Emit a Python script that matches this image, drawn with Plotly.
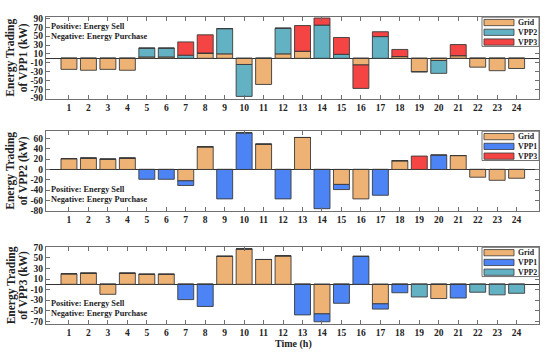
import plotly.graph_objects as go

hours = list(range(1, 25))

# Panel 1: Energy trading of VPP1
vpp1_grid = [-25, -27, -25, -27, 3, 3, 0, 11, 10, -14, -59, 10, 16, 0, 0, -15, 0, 4, -30, -5, 6, -20, -28, -23]
vpp1_vpp2 = [0, 0, 0, 0, 20, 20, 7, 1, 57, -72, 0, 58, 0, 75, 9, 0, 49, 0, -1, -29, 0, 0, 0, 0]
vpp1_vpp3 = [0, 0, 0, 0, 0, 0, 30, 41, 0, 0, 0, 0, 58, 16, 38, -53, 11, 16, 0, 0, 25, 0, 0, 0]

# Panel 2: Energy trading of VPP2
vpp2_grid = [21, 22, 20, 22, 0, 0, -22, 44, 0, 0, 49, 0, 62, 0, -29, -57, 0, 17, 0, 0, 27, -15, -21, -17]
vpp2_vpp1 = [0, 0, 0, 0, -19, -19, -9, 0, -57, 71, 0, -57, 0, -76, -10, 0, -50, 0, 0, 28, 0, 0, 0, 0]
vpp2_vpp3 = [0, 0, 0, 0, 0, 0, 0, 0, 0, 0, 0, 0, 0, 0, 0, 0, 0, 0, 26, 0, 0, 0, 0, 0]

# Panel 3: Energy trading of VPP3
vpp3_grid = [20, 21, -19, 21, 19, 19, 0, 0, 53, 67, 47, 54, 0, -56, 0, 0, -37, 0, 0, -27, 0, 0, 0, 0]
vpp3_vpp1 = [0, 0, 0, 0, 0, 0, -29, -42, 0, 0, 0, 0, -58, -15, -36, 53, -10, -16, 0, 0, -26, 0, 0, 0]
vpp3_vpp2 = [0, 0, 0, 0, 0, 0, 0, 0, 0, 0, 0, 0, 0, 0, 0, 0, 0, 0, -24, 0, 0, -15, -20, -17]

y_ticks1 = [90, 70, 50, 30, 10, -10, -30, -50, -70, -90]
y_ticks2 = [60, 40, 20, 0, -20, -40, -60, -80]
y_ticks3 = [70, 50, 30, 10, -10, -30, -50, -70]

C_GRID = "#EEB274"
C_VPP1 = "#4C84F5"
C_VPP2 = "#63B2C4"
C_VPP3 = "#F44444"

W, H = 550, 363
FONT = "Liberation Serif"


def px(x):
    return x / W


def py(y):
    return 1 - y / H


# pixel boxes of plot areas (top, bottom)
panels = [(13, 97), (130, 212), (249, 328)]
xl, xr = 46, 539

fig = go.Figure()

series = [
    [("Grid", vpp1_grid, C_GRID), ("VPP2", vpp1_vpp2, C_VPP2), ("VPP3", vpp1_vpp3, C_VPP3)],
    [("Grid", vpp2_grid, C_GRID), ("VPP1", vpp2_vpp1, C_VPP1), ("VPP3", vpp2_vpp3, C_VPP3)],
    [("Grid", vpp3_grid, C_GRID), ("VPP1", vpp3_vpp1, C_VPP1), ("VPP2", vpp3_vpp2, C_VPP2)],
]
ranges = [[-91, 94], [-80, 75], [-75, 71]]
ticks = [y_ticks1, y_ticks2, y_ticks3]
ytitles = ["of VPP1 (kW)", "of VPP2 (kW)", "of VPP3 (kW)"]

for i, group in enumerate(series):
    xa = "x" if i == 0 else f"x{i+1}"
    ya = "y" if i == 0 else f"y{i+1}"
    for name, vals, col in group:
        fig.add_trace(go.Bar(
            x=hours, y=vals, name=name, xaxis=xa, yaxis=ya, width=0.82,
            marker=dict(color=col, line=dict(color="#3a3a3a", width=0.9)),
            showlegend=False,
        ))
    top, bot = panels[i]
    axis_common = dict(showline=True, linecolor="#707070", linewidth=1, mirror="ticks",
                       ticks="inside", tickcolor="#707070", ticklen=4, showgrid=False)
    fig.layout[("xaxis" if i == 0 else f"xaxis{i+1}")] = dict(
        domain=[px(xl), px(xr)], anchor=ya, range=[-0.18, 25.15],
        tickvals=hours, ticktext=[str(h) for h in hours],
        tickfont=dict(family=FONT, size=9.5, color="#222", weight="bold"),
        zeroline=False, **axis_common)
    fig.layout[("yaxis" if i == 0 else f"yaxis{i+1}")] = dict(
        domain=[py(bot), py(top)], anchor=xa, range=ranges[i],
        tickvals=ticks[i], ticktext=[str(t) for t in ticks[i]],
        tickfont=dict(family=FONT, size=9.5, color="#222", weight="bold"),
        zeroline=True, zerolinecolor="#333", zerolinewidth=1, **axis_common)

    # y axis title (two lines)
    mid = (top + bot) / 2
    fig.add_annotation(x=px(11), y=py(mid), xref="paper", yref="paper",
                       text="<b>Energy Trading</b>", textangle=-90, showarrow=False,
                       xanchor="center", yanchor="middle",
                       font=dict(family=FONT, size=11.5, color="#222"))
    fig.add_annotation(x=px(23.5), y=py(mid), xref="paper", yref="paper",
                       text=f"<b>{ytitles[i]}</b>", textangle=-90, showarrow=False,
                       xanchor="center", yanchor="middle",
                       font=dict(family=FONT, size=11.5, color="#222"))

    # Custom legend box
    lt = top + 0.5
    lb = lt + 30
    fig.add_shape(type="rect", xref="paper", yref="paper",
                  x0=px(482), x1=px(539), y0=py(lb), y1=py(lt),
                  line=dict(color="#707070", width=1), fillcolor="white")
    for k, (name, vals, col) in enumerate(group):
        cy = lt + 5.5 + k * 10
        fig.add_shape(type="rect", xref="paper", yref="paper",
                      x0=px(484), x1=px(514), y0=py(cy + 3.2), y1=py(cy - 3.2),
                      line=dict(color="#3a3a3a", width=0.8), fillcolor=col)
        fig.add_annotation(x=px(516), y=py(cy), xref="paper", yref="paper",
                           text=f"<b>{name}</b>", showarrow=False,
                           xanchor="left", yanchor="middle",
                           font=dict(family=FONT, size=7.8, color="#222"))

# Positive / Negative notes
notes_y = [(23, 33), (190, 200), (307, 317)]
for a, b in notes_y:
    fig.add_annotation(x=px(49), y=py(a), xref="paper", yref="paper",
                       text="<b>Positive: Energy Sell</b>", showarrow=False,
                       xanchor="left", yanchor="middle",
                       font=dict(family=FONT, size=8.3, color="#222"))
    fig.add_annotation(x=px(49), y=py(b), xref="paper", yref="paper",
                       text="<b>Negative: Energy Purchase</b>", showarrow=False,
                       xanchor="left", yanchor="middle",
                       font=dict(family=FONT, size=8.3, color="#222"))

# x axis title
fig.add_annotation(x=px(293), y=py(349), xref="paper", yref="paper",
                   text="<b>Time (h)</b>", showarrow=False,
                   xanchor="center", yanchor="middle",
                   font=dict(family=FONT, size=10, color="#222"))

fig.update_layout(
    width=W, height=H, barmode="relative", bargap=0.18,
    margin=dict(l=0, r=0, t=0, b=0),
    plot_bgcolor="white", paper_bgcolor="white",
    font=dict(family=FONT),
)

fig.write_html(
    "out.html",
    config={"displayModeBar": False},
    post_script="document.body.style.margin='0';document.body.style.overflow='hidden';",
)
